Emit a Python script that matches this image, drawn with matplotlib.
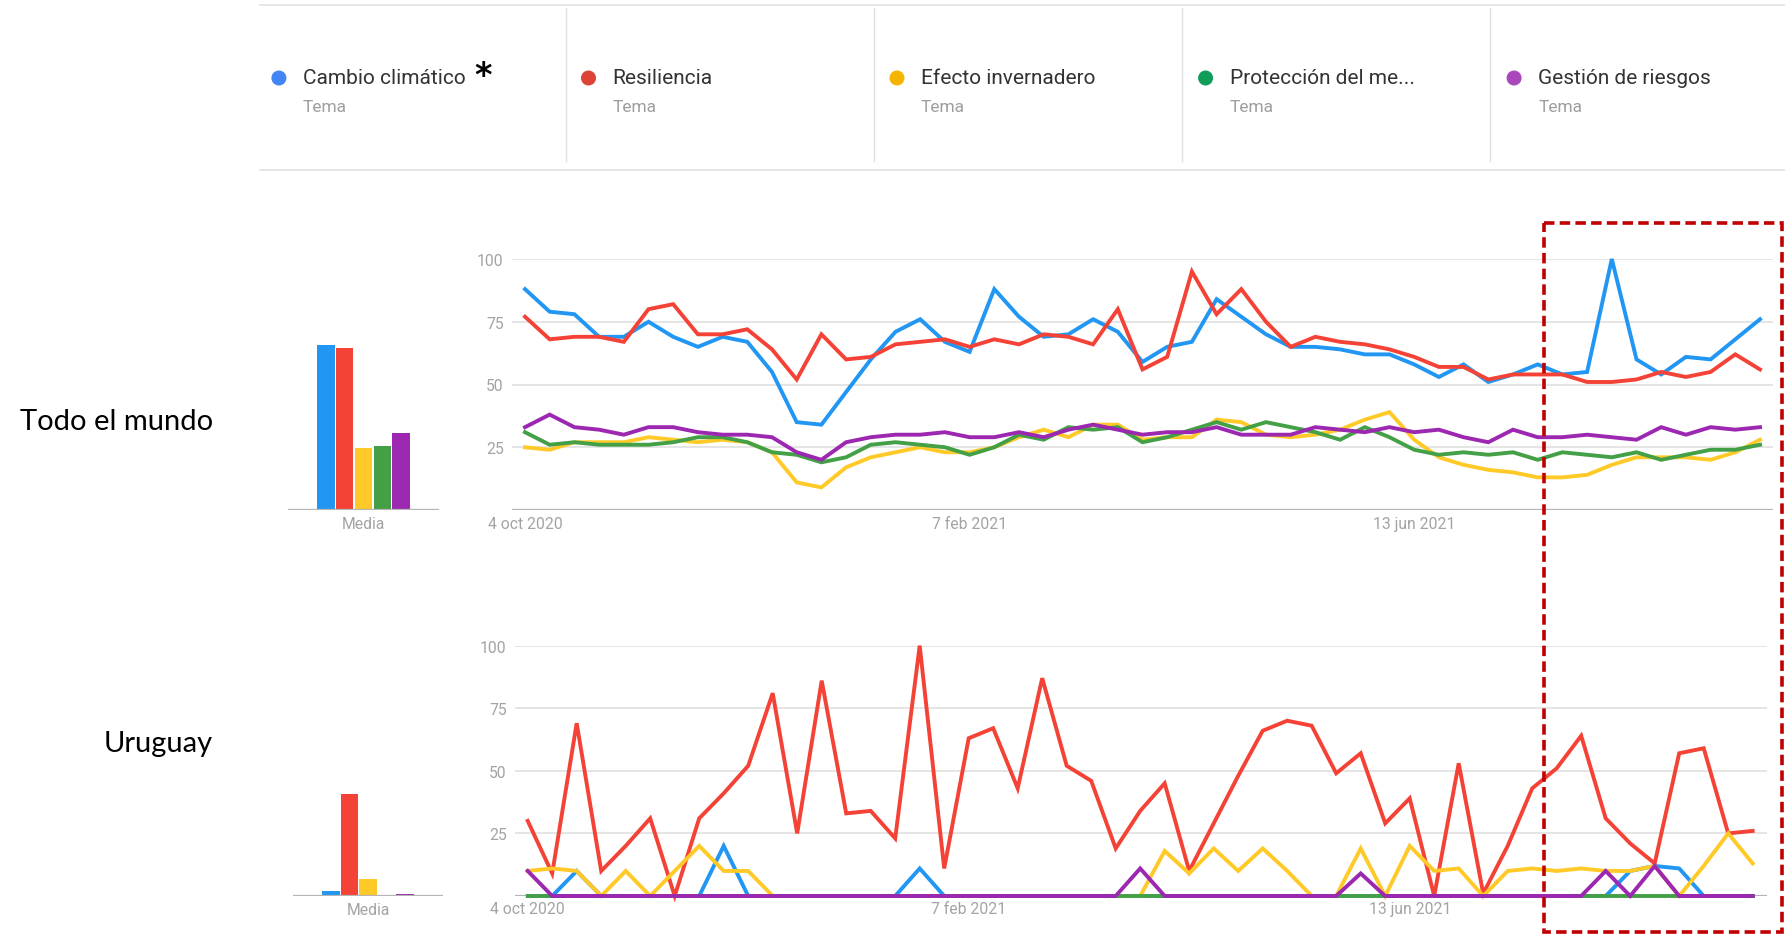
import matplotlib
matplotlib.use("Agg")
import pandas as pd
from matplotlib import pyplot as plt
from matplotlib.patches import Rectangle, Circle

# ---- data ----
topics = ["Cambio climático", "Resiliencia", "Efecto invernadero",
          "Protección del me...", "Gestión de riesgos"]
topic_kind = "Tema"
regions = ["Todo el mundo", "Uruguay"]

weeks = pd.date_range("2020-10-04", periods=51, freq="7D")
tick_dates = pd.to_datetime(["2020-10-04", "2021-02-07", "2021-06-13"])
tick_labels = ["4 oct 2020", "7 feb 2021", "13 jun 2021"]
y_ticks = [25, 50, 75, 100]

world_cambio = [88, 79, 78, 69, 69, 75, 69, 65, 69, 67, 55, 35, 34, 47, 60, 71, 76,
                67, 63, 88, 77, 69, 70, 76, 71, 59, 65, 67, 84, 77, 70, 65, 65, 64,
                62, 62, 58, 53, 58, 51, 54, 58, 54, 55, 100, 60, 54, 61, 60, 68, 76]
world_resiliencia = [77, 68, 69, 69, 67, 80, 82, 70, 70, 72, 64, 52, 70, 60, 61, 66, 67,
                     68, 65, 68, 66, 70, 69, 66, 80, 56, 61, 95, 78, 88, 75, 65, 69, 67,
                     66, 64, 61, 57, 57, 52, 54, 54, 54, 51, 51, 52, 55, 53, 55, 62, 56]
world_efecto = [25, 24, 27, 27, 27, 29, 28, 27, 28, 27, 23, 11, 9, 17, 21, 23, 25,
                23, 23, 25, 29, 32, 29, 34, 34, 28, 29, 29, 36, 35, 30, 29, 30, 32,
                36, 39, 28, 21, 18, 16, 15, 13, 13, 14, 18, 21, 21, 21, 20, 23, 28]
world_proteccion = [31, 26, 27, 26, 26, 26, 27, 29, 29, 27, 23, 22, 19, 21, 26, 27, 26,
                    25, 22, 25, 30, 28, 33, 32, 33, 27, 29, 32, 35, 32, 35, 33, 31, 28,
                    33, 29, 24, 22, 23, 22, 23, 20, 23, 22, 21, 23, 20, 22, 24, 24, 26]
world_gestion = [33, 38, 33, 32, 30, 33, 33, 31, 30, 30, 29, 23, 20, 27, 29, 30, 30,
                 31, 29, 29, 31, 29, 32, 34, 32, 30, 31, 31, 33, 30, 30, 30, 33, 32,
                 31, 33, 31, 32, 29, 27, 32, 29, 29, 30, 29, 28, 33, 30, 33, 32, 33]

uy_cambio = [0, 0, 10, 0, 0, 0, 0, 0, 20, 0, 0, 0, 0, 0, 0, 0, 11,
             0, 0, 0, 0, 0, 0, 0, 0, 0, 0, 0, 0, 0, 0, 0, 0, 0,
             0, 0, 0, 0, 0, 0, 0, 0, 0, 0, 0, 10, 12, 11, 0, 0, 0]
uy_resiliencia = [30, 9, 69, 10, 20, 31, 0, 31, 41, 52, 81, 25, 86, 33, 34, 23, 100,
                  11, 63, 67, 43, 87, 52, 46, 19, 34, 45, 10, 29, 48, 66, 70, 68, 49,
                  57, 29, 39, 0, 53, 1, 20, 43, 51, 64, 31, 21, 13, 57, 59, 25, 26]
uy_efecto = [10, 11, 10, 0, 10, 0, 10, 20, 10, 10, 0, 0, 0, 0, 0, 0, 0,
             0, 0, 0, 0, 0, 0, 0, 0, 0, 18, 9, 19, 10, 19, 10, 0, 0,
             19, 0, 20, 10, 11, 0, 10, 11, 10, 11, 10, 10, 12, 0, 12, 25, 13]
uy_proteccion = [0] * 51
uy_gestion = [10, 0, 0, 0, 0, 0, 0, 0, 0, 0, 0, 0, 0, 0, 0, 0, 0,
              0, 0, 0, 0, 0, 0, 0, 0, 11, 0, 0, 0, 0, 0, 0, 0, 0,
              9, 0, 0, 0, 0, 0, 0, 0, 0, 0, 10, 0, 12, 0, 0, 0, 0]

world_media = [65.7, 64.5, 24.6, 25.6, 30.5]
uy_media = [2.0, 40.7, 6.8, 0.0, 0.7]

# ---- styling ----
W, H = 1785, 937
line_colors = ["#2196F3", "#F44336", "#FFCA28", "#43A047", "#9C27B0"]
dot_colors = ["#4285F4", "#DB4437", "#F4B400", "#0F9D58", "#AB47BC"]
grid_color = "#E3E3E3"
base_color = "#B5B5B5"
label_gray = "#A3A3A3"
tick_font = "Roboto"

fig = plt.figure(figsize=(W / 100, H / 100), dpi=100)
fig.patch.set_facecolor("white")


def px_axes(x0, y_top, x1, y_bot):
    # place an axes using pixel coords of the 1785x937 canvas
    return fig.add_axes([x0 / W, 1 - y_bot / H, (x1 - x0) / W, (y_bot - y_top) / H])


def style_axes(ax):
    for s in ax.spines.values():
        s.set_visible(False)
    ax.set_facecolor("none")
    ax.set_ylim(0, 100)


def line_chart(box, first_px, step_px, series, xpad):
    x0, y_top, x1, y_bot = box
    ax = px_axes(x0, y_top, x1, y_bot)
    style_axes(ax)
    for v in y_ticks:
        ax.axhline(v, color=grid_color, lw=1.3, zorder=0)
    ax.axhline(0, color=base_color, lw=1.6, zorder=0)
    for vals, c in zip(series, line_colors):
        ax.plot(weeks, vals, color=c, lw=2.8, solid_joinstyle="miter",
                clip_on=False, zorder=2)
    day_px = step_px / 7.0
    left = weeks[0] - pd.Timedelta(days=(first_px - x0) / day_px)
    right = left + pd.Timedelta(days=(x1 - x0) / day_px)
    ax.set_xlim(left, right)
    ax.set_yticks(y_ticks)
    ax.set_yticklabels([str(v) for v in y_ticks])
    ax.set_xticks(tick_dates)
    ax.set_xticklabels(tick_labels)
    ax.tick_params(axis="y", length=0, pad=6, labelsize=11.3, labelcolor=label_gray)
    ax.tick_params(axis="x", length=0, pad=xpad, labelsize=11.3, labelcolor=label_gray)
    for t in ax.get_xticklabels() + ax.get_yticklabels():
        t.set_fontfamily(tick_font)
    return ax


def bar_chart(box, pitch_px, values, xpad):
    x0, y_top, x1, y_bot = box
    ax = px_axes(x0, y_top, x1, y_bot)
    style_axes(ax)
    pos = list(range(len(values)))
    ax.bar(pos, values, width=0.92, color=line_colors, zorder=2)
    ax.axhline(0, color=base_color, lw=1.6, zorder=3)
    span = (x1 - x0) / pitch_px
    ax.set_xlim(2 - span / 2, 2 + span / 2)
    ax.set_yticks([])
    ax.set_xticks([2])
    ax.set_xticklabels(["Media"])
    ax.tick_params(axis="x", length=0, pad=xpad, labelsize=11.3, labelcolor=label_gray)
    for t in ax.get_xticklabels():
        t.set_fontfamily(tick_font)
    return ax


world = [world_cambio, world_resiliencia, world_efecto, world_proteccion, world_gestion]
uy = [uy_cambio, uy_resiliencia, uy_efecto, uy_proteccion, uy_gestion]

line_chart((512, 260, 1773, 511), 525, 24.7, world, 4.6)
line_chart((515, 646.6, 1767, 897), 527.7, 24.5, uy, 3.8)
bar_chart((288, 260, 439, 511), 18.7, world_media, 4.6)
bar_chart((293, 646.6, 443, 897), 18.5, uy_media, 4.6)

# ---- overlay in pixel coords: header, region names, highlight box ----
ov = fig.add_axes([0, 0, 1, 1])
ov.set_xlim(0, W)
ov.set_ylim(H, 0)
ov.axis("off")

ov.plot([260, W], [6, 6], color="#E6E6E6", lw=1.4)
ov.plot([260, W], [171, 171], color="#E6E6E6", lw=1.4)
for xd in [565.8, 874.3, 1181.7, 1490.2]:
    ov.plot([xd, xd], [9, 162], color="#E0E0E0", lw=1.0)

dot_x = [278.9, 588.5, 897.0, 1205.6, 1514.1]
for name, xd, dc in zip(topics, dot_x, dot_colors):
    ov.add_patch(Circle((xd, 79), 6.8, color=dc, zorder=3))
    ov.text(xd + 24, 78.5, name, ha="left", va="center", fontsize=15,
            family="Roboto", color="#333333")
    ov.text(xd + 24, 108, topic_kind, ha="left", va="center", fontsize=12.5,
            family="Roboto", color="#9E9E9E")
ov.text(474, 86, "*", ha="left", va="baseline", fontsize=24,
        family="DejaVu Sans", fontweight="bold", color="black")

ov.text(213, 422, regions[0], ha="right", va="center", fontsize=21,
        family="Lato", color="black")
ov.text(213, 744, regions[1], ha="right", va="center", fontsize=21,
        family="Lato", color="black")

ov.add_patch(Rectangle((1543.6, 224), 1781.5 - 1543.6, 933 - 224, fill=False,
                       edgecolor="#C00000", lw=2.6, linestyle=(0, (2.9, 1.45)),
                       zorder=5))

fig.savefig("out.png", dpi=100, facecolor="white")
